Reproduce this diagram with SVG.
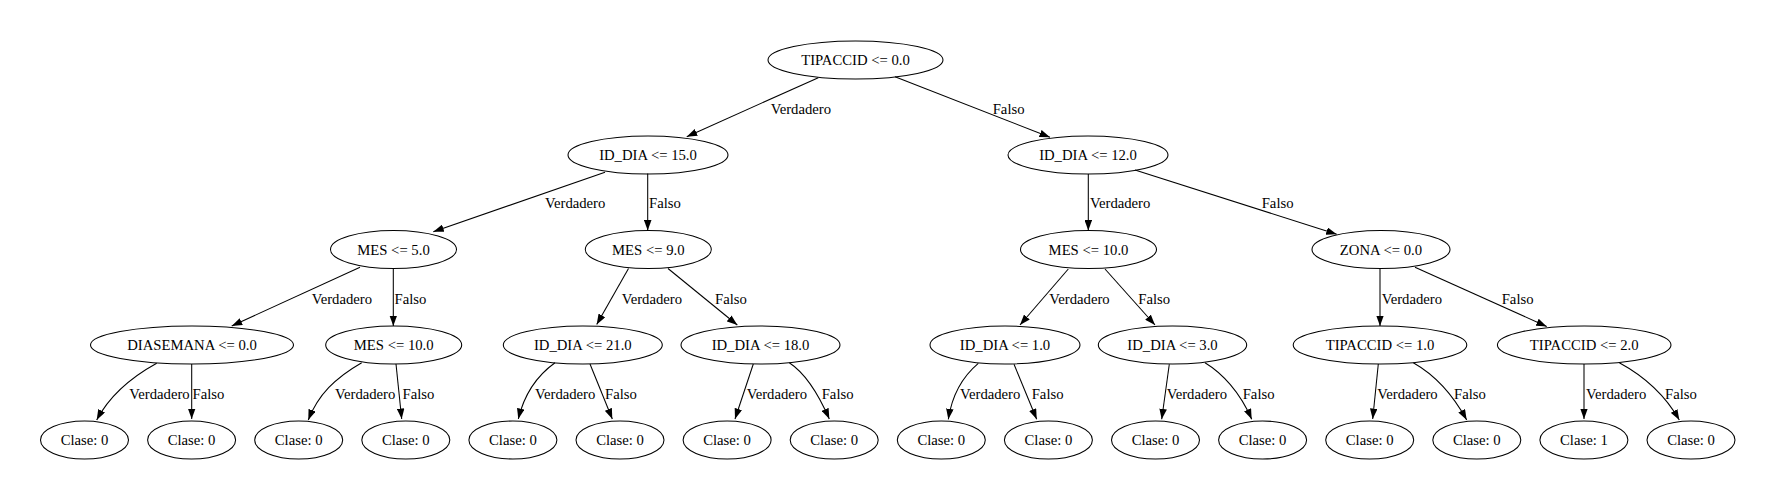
<svg xmlns="http://www.w3.org/2000/svg" width="1779" height="498" viewBox="0 0 1779 498">
<style>
ellipse{fill:none;stroke:#000;stroke-width:1.05}
.n{font-family:"Liberation Serif","Times New Roman",serif;font-size:14.7px;fill:#000;text-anchor:middle}
.l{font-family:"Liberation Serif","Times New Roman",serif;font-size:14.7px;fill:#000}
.e path{fill:none;stroke:#000;stroke-width:1.05;marker-end:url(#ah)}
</style>
<defs>
<marker id="ah" markerUnits="userSpaceOnUse" viewBox="0 0 10.5 7.6" refX="10.5" refY="3.8" markerWidth="10.5" markerHeight="7.6" orient="auto">
<path d="M0,0 L10.5,3.8 L0,7.6 z" fill="#000"/>
</marker>
</defs>
<rect width="1779" height="498" fill="#fff"/>
<g id="edges" class="e">
<path d="M818.3,77.7 L686.7,136.7"/>
<path d="M895,76.7 L1050,137.3"/>
<path d="M605,172.3 L433.3,231.7"/>
<path d="M647.7,173.5 L647.7,230.5"/>
<path d="M1088.3,174 L1088.3,230.5"/>
<path d="M1135,170 L1336.7,234.3"/>
<path d="M360,267.3 L231.7,326"/>
<path d="M393.3,268.5 L393.3,326"/>
<path d="M628.5,268.5 L596.7,324.5"/>
<path d="M668,268.5 L737.3,325"/>
<path d="M1068.3,269 L1020,325"/>
<path d="M1105,269 L1155,325"/>
<path d="M1380,269 L1380,326"/>
<path d="M1415,267.3 L1546.7,326.5"/>
<path d="M156.7,363.3 C130,378 110,395 96.7,420"/>
<path d="M191.7,364 L191.7,419"/>
<path d="M361.7,362.7 C335,378 318,395 308.3,420"/>
<path d="M396,364 L401.7,419"/>
<path d="M555,362.7 C535,377 524,395 518.3,419"/>
<path d="M590,364 L612.3,419"/>
<path d="M753.3,364 L735,419"/>
<path d="M789.3,362.7 C805,373 818,393 829.3,419"/>
<path d="M978.3,363.3 C962,377 952,395 948.3,419.3"/>
<path d="M1014,364.3 L1036.7,419.3"/>
<path d="M1169.3,364.3 L1161.7,419.3"/>
<path d="M1205,362.7 C1222,373 1240,392 1251.7,419.3"/>
<path d="M1378.3,364 L1372.7,419"/>
<path d="M1413.3,362.7 C1435,375 1452,393 1466.7,420"/>
<path d="M1584,364 L1584,419"/>
<path d="M1619.3,362.7 C1642,375 1664,393 1679.3,420"/>
<text class="l" x="770.7" y="113.5">Verdadero</text>
<text class="l" x="992.7" y="113.5">Falso</text>
<text class="l" x="545" y="207.7">Verdadero</text>
<text class="l" x="649" y="207.7">Falso</text>
<text class="l" x="1090" y="207.7">Verdadero</text>
<text class="l" x="1261.7" y="207.7">Falso</text>
<text class="l" x="311.7" y="303.5">Verdadero</text>
<text class="l" x="394.5" y="303.5">Falso</text>
<text class="l" x="621.7" y="303.5">Verdadero</text>
<text class="l" x="715" y="303.5">Falso</text>
<text class="l" x="1049.3" y="303.5">Verdadero</text>
<text class="l" x="1138.3" y="303.5">Falso</text>
<text class="l" x="1381.7" y="303.5">Verdadero</text>
<text class="l" x="1501.7" y="303.5">Falso</text>
<text class="l" x="129.3" y="398.5">Verdadero</text>
<text class="l" x="192.5" y="398.5">Falso</text>
<text class="l" x="335" y="398.5">Verdadero</text>
<text class="l" x="402.5" y="398.5">Falso</text>
<text class="l" x="535" y="398.5">Verdadero</text>
<text class="l" x="605" y="398.5">Falso</text>
<text class="l" x="746.7" y="398.5">Verdadero</text>
<text class="l" x="821.7" y="398.5">Falso</text>
<text class="l" x="960" y="398.5">Verdadero</text>
<text class="l" x="1031.7" y="398.5">Falso</text>
<text class="l" x="1166.7" y="398.5">Verdadero</text>
<text class="l" x="1242.7" y="398.5">Falso</text>
<text class="l" x="1377.3" y="398.5">Verdadero</text>
<text class="l" x="1454" y="398.5">Falso</text>
<text class="l" x="1586" y="398.5">Verdadero</text>
<text class="l" x="1665" y="398.5">Falso</text>
</g>
<g id="n0"><ellipse cx="855.5" cy="60" rx="87.5" ry="19"/><text class="n" x="855.5" y="65">TIPACCID &lt;= 0.0</text></g>
<g id="n1"><ellipse cx="648" cy="155" rx="80" ry="19"/><text class="n" x="648" y="160">ID_DIA &lt;= 15.0</text></g>
<g id="n2"><ellipse cx="1088" cy="155" rx="80" ry="19"/><text class="n" x="1088" y="160">ID_DIA &lt;= 12.0</text></g>
<g id="n3"><ellipse cx="393.5" cy="249.5" rx="63" ry="19"/><text class="n" x="393.5" y="254.5">MES &lt;= 5.0</text></g>
<g id="n4"><ellipse cx="648.3" cy="249.5" rx="63" ry="19"/><text class="n" x="648.3" y="254.5">MES &lt;= 9.0</text></g>
<g id="n5"><ellipse cx="1088.5" cy="249.5" rx="68" ry="19"/><text class="n" x="1088.5" y="254.5">MES &lt;= 10.0</text></g>
<g id="n6"><ellipse cx="1381" cy="249.5" rx="69" ry="19"/><text class="n" x="1381" y="254.5">ZONA &lt;= 0.0</text></g>
<g id="n7"><ellipse cx="192" cy="345" rx="101.5" ry="19"/><text class="n" x="192" y="350">DIASEMANA &lt;= 0.0</text></g>
<g id="n8"><ellipse cx="393.7" cy="345" rx="68" ry="19"/><text class="n" x="393.7" y="350">MES &lt;= 10.0</text></g>
<g id="n9"><ellipse cx="582.8" cy="345" rx="79.5" ry="19"/><text class="n" x="582.8" y="350">ID_DIA &lt;= 21.0</text></g>
<g id="n10"><ellipse cx="760.5" cy="345" rx="79.5" ry="19"/><text class="n" x="760.5" y="350">ID_DIA &lt;= 18.0</text></g>
<g id="n11"><ellipse cx="1005" cy="345" rx="75" ry="19"/><text class="n" x="1005" y="350">ID_DIA &lt;= 1.0</text></g>
<g id="n12"><ellipse cx="1172.5" cy="345" rx="74.2" ry="19"/><text class="n" x="1172.5" y="350">ID_DIA &lt;= 3.0</text></g>
<g id="n13"><ellipse cx="1380" cy="345" rx="86.8" ry="19"/><text class="n" x="1380" y="350">TIPACCID &lt;= 1.0</text></g>
<g id="n14"><ellipse cx="1584.2" cy="345" rx="86.8" ry="19"/><text class="n" x="1584.2" y="350">TIPACCID &lt;= 2.0</text></g>
<g id="c0"><ellipse cx="84.5" cy="440" rx="44" ry="19"/><text class="n" x="84.5" y="445">Clase: 0</text></g>
<g id="c1"><ellipse cx="191.6" cy="440" rx="44" ry="19"/><text class="n" x="191.6" y="445">Clase: 0</text></g>
<g id="c2"><ellipse cx="298.7" cy="440" rx="44" ry="19"/><text class="n" x="298.7" y="445">Clase: 0</text></g>
<g id="c3"><ellipse cx="405.8" cy="440" rx="44" ry="19"/><text class="n" x="405.8" y="445">Clase: 0</text></g>
<g id="c4"><ellipse cx="512.9" cy="440" rx="44" ry="19"/><text class="n" x="512.9" y="445">Clase: 0</text></g>
<g id="c5"><ellipse cx="620" cy="440" rx="44" ry="19"/><text class="n" x="620" y="445">Clase: 0</text></g>
<g id="c6"><ellipse cx="727.1" cy="440" rx="44" ry="19"/><text class="n" x="727.1" y="445">Clase: 0</text></g>
<g id="c7"><ellipse cx="834.2" cy="440" rx="44" ry="19"/><text class="n" x="834.2" y="445">Clase: 0</text></g>
<g id="c8"><ellipse cx="941.3" cy="440" rx="44" ry="19"/><text class="n" x="941.3" y="445">Clase: 0</text></g>
<g id="c9"><ellipse cx="1048.4" cy="440" rx="44" ry="19"/><text class="n" x="1048.4" y="445">Clase: 0</text></g>
<g id="c10"><ellipse cx="1155.5" cy="440" rx="44" ry="19"/><text class="n" x="1155.5" y="445">Clase: 0</text></g>
<g id="c11"><ellipse cx="1262.6" cy="440" rx="44" ry="19"/><text class="n" x="1262.6" y="445">Clase: 0</text></g>
<g id="c12"><ellipse cx="1369.7" cy="440" rx="44" ry="19"/><text class="n" x="1369.7" y="445">Clase: 0</text></g>
<g id="c13"><ellipse cx="1476.8" cy="440" rx="44" ry="19"/><text class="n" x="1476.8" y="445">Clase: 0</text></g>
<g id="c14"><ellipse cx="1583.9" cy="440" rx="44" ry="19"/><text class="n" x="1583.9" y="445">Clase: 1</text></g>
<g id="c15"><ellipse cx="1691" cy="440" rx="44" ry="19"/><text class="n" x="1691" y="445">Clase: 0</text></g>
</svg>
